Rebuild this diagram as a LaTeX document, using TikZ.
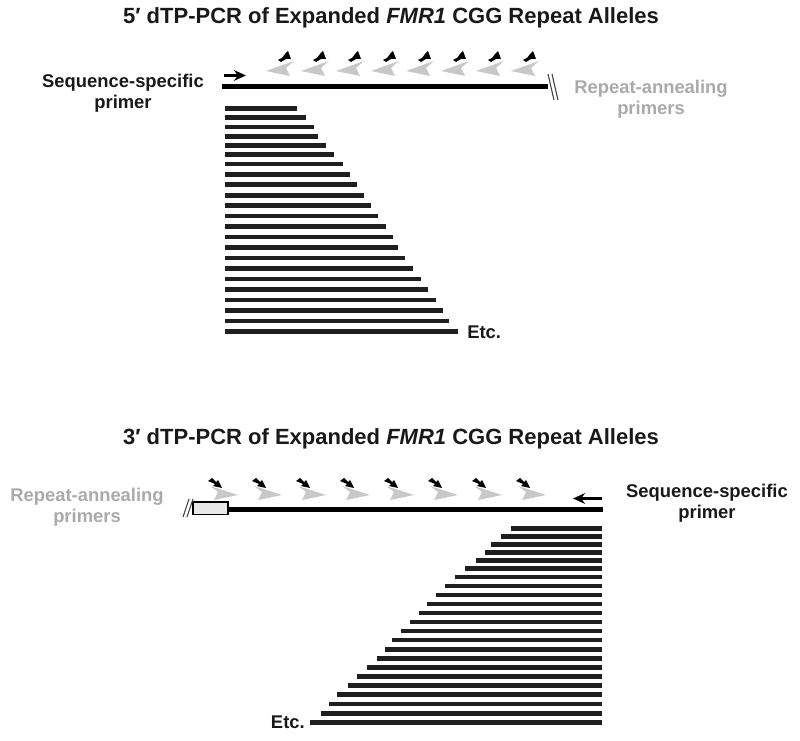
\documentclass[tikz,border=0pt]{standalone}
\usepackage{fontspec}
\setmainfont{Liberation Sans}
\usetikzlibrary{arrows.meta}
\definecolor{txt}{RGB}{25,25,25}
\definecolor{gtxt}{RGB}{170,170,170}
\definecolor{gprimer}{RGB}{200,200,200}
\definecolor{boxfill}{RGB}{232,232,232}
\begin{document}
\begin{tikzpicture}[x=0.75pt,y=-0.75pt]
\tikzset{
  dna/.style={line width=3.75pt, black, line cap=butt},
  frag/.style={line width=3.5pt, black!88},
  lbl/.style={align=center, text=txt, inner sep=0pt, font=\bfseries\fontsize{13.8}{15.5}\selectfont},
  glbl/.style={lbl, text=gtxt},
  ttl/.style={inner sep=0pt, text=txt, font=\bfseries\fontsize{16.5}{20}\selectfont},
  gprim/.style={fill=gprimer, draw=none},
  bprim/.style={fill=black, draw=none},
  brk/.style={line width=0.8pt, black!75},
  ssp/.style={line width=2.4pt, black, -{Stealth[length=9pt,width=8pt]}},
  pics/primerL/.style={code={
    \fill[gprim] (0,0) -- (28,-10) -- (20,-3) -- (24,5) -- cycle;
    \fill[bprim] (12,-11) -- (16,-13) -- (19,-17) -- (22,-20) -- (25,-12) -- (20,-12) -- (15,-9) -- cycle;
  }},
  pics/primerR/.style={code={
    \fill[gprim] (0,0) -- (-28,-9) -- (-20,-3) -- (-24,5) -- cycle;
    \fill[bprim] (-30,-14) -- (-26,-17) -- (-22,-13) -- (-20,-15) -- (-16,-7) -- (-25,-9) -- (-23,-11) -- cycle;
  }}
}
\useasboundingbox (0,0) rectangle (800,741);

% ---------- top panel ----------
\node[ttl] (t1) at (391,18) {5′ dTP-PCR of Expanded \textit{FMR1} CGG Repeat Alleles};
\node[lbl] (ss1) at (123,93) {Sequence-specific\\primer};
\node[glbl] (ra1) at (651,99) {Repeat-annealing\\primers};

\coordinate (a1s) at (222,87);
\coordinate (a1e) at (548,87);
\draw[dna] (a1s) -- (a1e);
\draw[brk] (548,74) -- (554,100);
\draw[brk] (552,74) -- (558,100);
\coordinate (p1s) at (224,75.5);
\coordinate (p1e) at (246,75.5);
\draw[ssp] (p1s) -- (p1e);

\foreach \i in {0,...,7}
  \pic at ({266+35*\i},71) {primerL};

\foreach \y/\xe in {108.3/297.3,117.6/306,127/313.7,136.3/318,145.6/325.7,154.3/334.3,164/342.7,174.3/350.3,184.7/357.3,195.3/364.3,205.7/371.3,216/378,226.5/385.7,237/392.7,247.5/398.3,258/405.3,268.5/412.7,279/420.7,289.5/428.3,300/436.3,310.5/443,321/449.3,331.5/458.3}
  \draw[frag] (225,\y) -- (\xe,\y);
\node[lbl, anchor=west] (etc1) at (467,332) {Etc.};

% ---------- bottom panel ----------
\node[ttl] (t2) at (391,439) {3′ dTP-PCR of Expanded \textit{FMR1} CGG Repeat Alleles};
\node[glbl] (ra2) at (87,507) {Repeat-annealing\\primers};
\node[lbl] (ss2) at (707,503) {Sequence-specific\\primer};

\coordinate (a2s) at (228,509.5);
\coordinate (a2e) at (603,509.5);
\draw[dna] (a2s) -- (a2e);
\draw[black, line width=0.9pt, fill=boxfill] (193,502) rectangle (228,514.5);
\draw[brk] (183,517) -- (189,499);
\draw[brk] (187,517) -- (193,499);
\coordinate (p2s) at (602,498.5);
\coordinate (p2e) at (573,498.5);
\draw[ssp] (p2s) -- (p2e);

\foreach \i in {0,...,7}
  \pic at ({238+44*\i},495) {primerR};

\foreach \y/\xs in {528.3/511,536.3/500.7,544.3/490.7,552.3/485,560.3/476,568.5/465.3,577/454.7,586/444.7,595/436.3,604/427.3,613/418.7,622/410.3,631/400.7,640/391.7,649.2/385,658.3/376.7,667.3/367,676.5/356.7,685.7/347.7,694.8/337.3,704/329,713.2/320.7,722.3/310}
  \draw[frag] (\xs,\y) -- (602,\y);
\node[lbl, anchor=east] (etc2) at (305,722) {Etc.};
\end{tikzpicture}
\end{document}
